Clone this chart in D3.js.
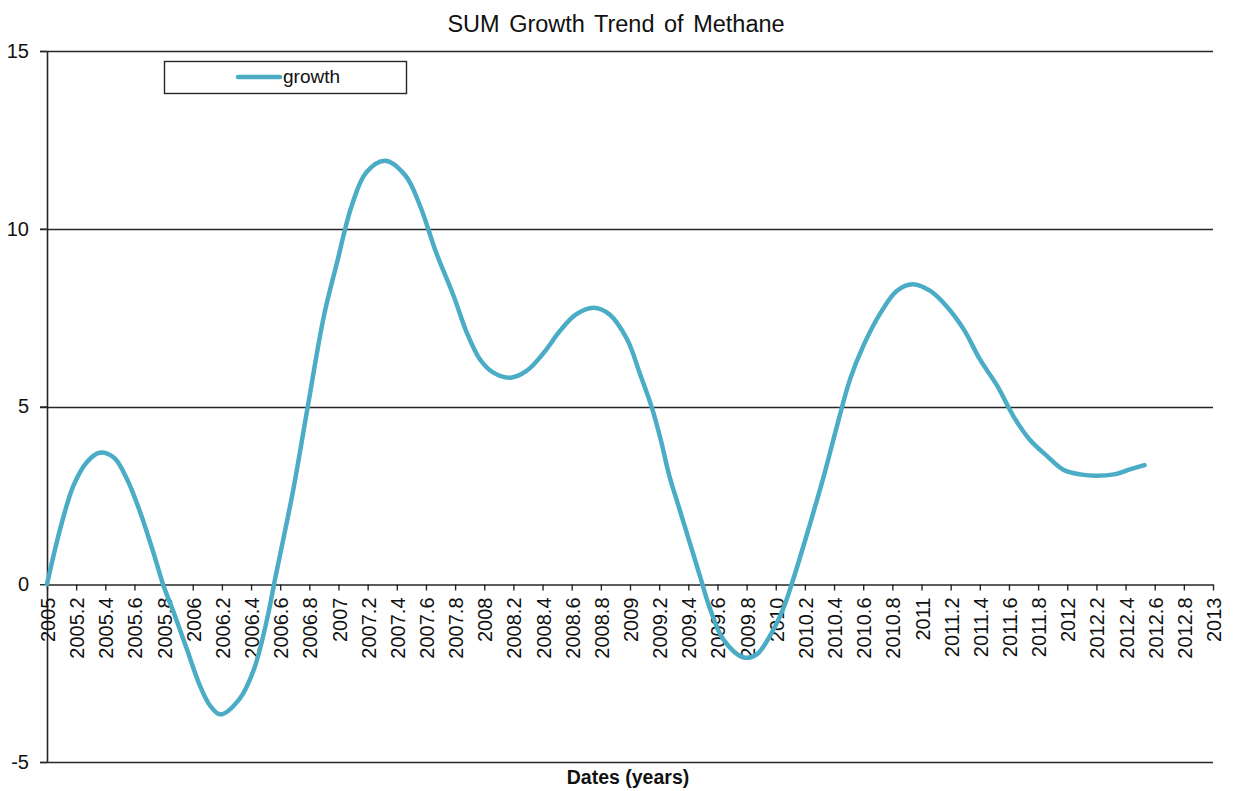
<!DOCTYPE html>
<html>
<head>
<meta charset="utf-8">
<script src="https://cdn.jsdelivr.net/npm/d3@7"></script>
<style>
  html, body { margin: 0; padding: 0; background: #fff; }
  svg { display: block; font-family: "Liberation Sans", Arial, sans-serif; }
</style>
</head>
<body>
<svg id="chart" width="1233" height="791"></svg>
<script>
const title = "SUM Growth Trend of Methane";
const xTitle = "Dates (years)";
const seriesName = "growth";

const years = [
  2005.00, 2005.09, 2005.18, 2005.27, 2005.36, 2005.46, 2005.55, 2005.64, 2005.73, 2005.80,
  2005.87, 2005.96, 2006.05, 2006.12, 2006.19, 2006.32, 2006.42, 2006.51, 2006.56, 2006.69,
  2006.79, 2006.90, 2006.99, 2007.09, 2007.19, 2007.32, 2007.46, 2007.56, 2007.67, 2007.79,
  2007.88, 2007.97, 2008.06, 2008.18, 2008.29, 2008.41, 2008.52, 2008.63, 2008.75, 2008.86,
  2008.98, 2009.07, 2009.15, 2009.21, 2009.27, 2009.34, 2009.41, 2009.48, 2009.55, 2009.64,
  2009.78, 2009.87, 2009.96, 2010.05, 2010.12, 2010.21, 2010.33, 2010.42, 2010.51, 2010.60,
  2010.72, 2010.83, 2010.94, 2011.06, 2011.17, 2011.29, 2011.40, 2011.52, 2011.63, 2011.74,
  2011.86, 2011.97, 2012.09, 2012.20, 2012.32, 2012.43, 2012.53
];
const growth = [
  0.00, 1.55, 2.76, 3.42, 3.70, 3.56, 2.95, 2.02, 0.89, -0.05,
  -0.80, -1.83, -2.86, -3.42, -3.66, -3.23, -2.39, -0.98, 0.05, 2.67,
  5.02, 7.55, 9.05, 10.64, 11.58, 11.91, 11.49, 10.64, 9.33, 8.11,
  7.08, 6.33, 5.96, 5.81, 6.00, 6.52, 7.13, 7.59, 7.78, 7.59,
  6.89, 5.90, 4.97, 4.08, 3.05, 2.11, 1.17, 0.23, -0.70, -1.55,
  -2.06, -1.97, -1.45, -0.70, 0.14, 1.35, 3.05, 4.45, 5.77, 6.70,
  7.64, 8.25, 8.44, 8.25, 7.83, 7.17, 6.33, 5.58, 4.73, 4.08,
  3.61, 3.23, 3.09, 3.05, 3.09, 3.23, 3.35
];

const xTickLabels = [
  "2005","2005.2","2005.4","2005.6","2005.8","2006","2006.2","2006.4","2006.6","2006.8",
  "2007","2007.2","2007.4","2007.6","2007.8","2008","2008.2","2008.4","2008.6","2008.8",
  "2009","2009.2","2009.4","2009.6","2009.8","2010","2010.2","2010.4","2010.6","2010.8",
  "2011","2011.2","2011.4","2011.6","2011.8","2012","2012.2","2012.4","2012.6","2012.8","2013"
];
const yTickValues = [-5, 0, 5, 10, 15];
const yTickLabels = ["-5", "0", "5", "10", "15"];

const svg = d3.select("#chart");
const mLeft = 47, mRight = 1213, mTop = 51, mBottom = 762;
const x = d3.scaleLinear().domain([2005, 2013]).range([mLeft, mRight]);
const y = d3.scaleLinear().domain([-5, 15]).range([mBottom, mTop]);
const axisColor = "#262626";

// Title
svg.append("text")
  .attr("x", 616).attr("y", 32)
  .attr("text-anchor", "middle")
  .attr("font-size", 23.5)
  .attr("word-spacing", 3)
  .attr("fill", "#111")
  .text(title);

// Horizontal gridlines (excluding 0, drawn as axis)
svg.append("g").selectAll("line")
  .data(yTickValues.filter(v => v !== 0))
  .join("line")
  .attr("x1", mLeft - 7).attr("x2", mRight)
  .attr("y1", d => Math.round(y(d)) + 0.5).attr("y2", d => Math.round(y(d)) + 0.5)
  .attr("stroke", axisColor).attr("stroke-width", 1.4);

// Y axis
const yAxis = d3.axisLeft(y).tickValues(yTickValues).tickSize(7).tickSizeOuter(0)
  .tickFormat((d, i) => yTickLabels[i]);
const gy = svg.append("g").attr("transform", `translate(${mLeft},0)`).call(yAxis);
gy.select(".domain").attr("stroke", axisColor).attr("stroke-width", 1.6);
gy.selectAll(".tick line").attr("stroke", axisColor).attr("stroke-width", 1.4);
gy.selectAll(".tick text")
  .attr("x", -18)
  .attr("font-size", 20)
  .attr("font-family", "Liberation Sans, Arial, sans-serif")
  .attr("fill", "#111");

// X axis at y=0
const xTickValues = xTickLabels.map(Number);
const xAxis = d3.axisBottom(x).tickValues(xTickValues).tickSize(6).tickSizeOuter(0)
  .tickFormat((d, i) => xTickLabels[i]);
const gx = svg.append("g").attr("transform", `translate(0,${Math.round(y(0)) + 0.5})`).call(xAxis);
gx.select(".domain").attr("stroke", axisColor).attr("stroke-width", 1.4);
gx.selectAll(".tick line").attr("stroke", axisColor).attr("stroke-width", 1.4);
gx.selectAll(".tick text")
  .attr("font-size", 20)
  .attr("font-family", "Liberation Sans, Arial, sans-serif")
  .attr("fill", "#111")
  .attr("text-anchor", "end")
  .attr("dy", null)
  .attr("y", 0)
  .attr("transform", "translate(7.5,13) rotate(-90)");

// X axis title
svg.append("text")
  .attr("x", 628).attr("y", 784)
  .attr("text-anchor", "middle")
  .attr("font-size", 19.5)
  .attr("font-weight", "bold")
  .attr("fill", "#111")
  .text(xTitle);

// Series line
const line = d3.line()
  .x((d, i) => x(years[i]))
  .y(d => y(d))
  .curve(d3.curveCatmullRom.alpha(0.5));
svg.append("path")
  .datum(growth)
  .attr("d", line)
  .attr("fill", "none")
  .attr("stroke", "#4BACC6")
  .attr("stroke-width", 4.5)
  .attr("stroke-linejoin", "round")
  .attr("stroke-linecap", "round");

// Legend
const lg = svg.append("g");
lg.append("rect")
  .attr("x", 164.5).attr("y", 61.5).attr("width", 242).attr("height", 32)
  .attr("fill", "#fff").attr("stroke", axisColor).attr("stroke-width", 1.4);
lg.append("line")
  .attr("x1", 238).attr("x2", 280).attr("y1", 77).attr("y2", 77)
  .attr("stroke", "#4BACC6").attr("stroke-width", 4.5).attr("stroke-linecap", "round");
lg.append("text")
  .attr("x", 283).attr("y", 83)
  .attr("font-size", 19)
  .attr("fill", "#111")
  .text(seriesName);
</script>
</body>
</html>
